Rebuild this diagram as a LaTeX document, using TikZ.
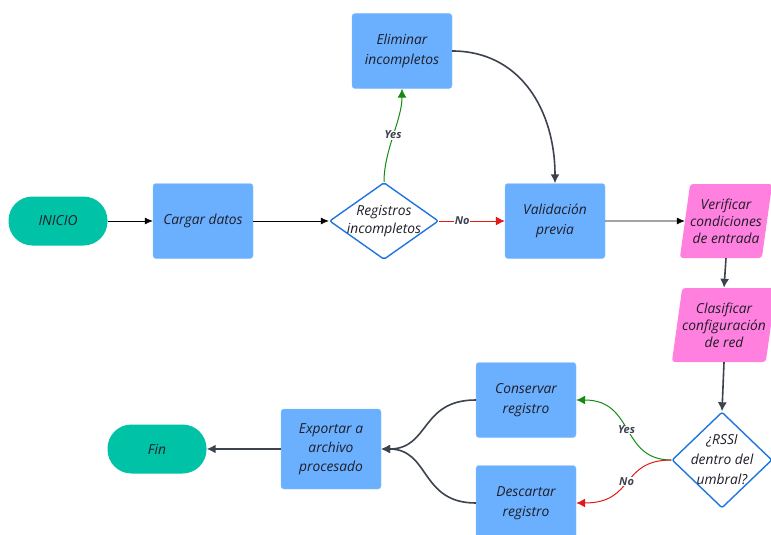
\documentclass[tikz,border=0pt]{standalone}
\usepackage{fontspec}
\setmainfont{Open Sans}
\usetikzlibrary{shapes.geometric,arrows.meta}
\definecolor{teal1}{RGB}{0,194,166}
\definecolor{blue1}{RGB}{106,176,255}
\definecolor{pink1}{RGB}{255,128,222}
\definecolor{dark1}{RGB}{60,66,78}
\definecolor{dblue}{RGB}{30,118,224}
\definecolor{grn}{RGB}{20,140,20}
\definecolor{rd}{RGB}{225,25,25}
\definecolor{txt}{RGB}{30,30,40}
\tikzset{
  base/.style={font=\fontsize{13.8}{20}\selectfont\itshape, text=txt, align=center, inner sep=0pt},
  term/.style={base, fill=teal1, rounded corners=24pt, minimum width=99pt, minimum height=49pt},
  proc/.style={base, fill=blue1, draw=blue1!80!white, rounded corners=3pt, minimum width=100pt, minimum height=75pt},
  dec/.style={shape=diamond, draw=dblue, line width=1.4pt, fill=white, inner sep=0pt, rounded corners=2pt},
  io/.style={base, font=\fontsize{13.8}{17}\selectfont\itshape, shape=trapezium, trapezium left angle=77, trapezium right angle=103, fill=pink1, rounded corners=3pt, minimum width=82pt, minimum height=74pt, trapezium stretches=true},
  thin/.style={draw=black, line width=0.6pt, -{Latex[length=8pt,width=7pt]}},
  thick/.style={draw=dark1, line width=1.6pt, -{Latex[length=9pt,width=9pt]}},
  yes/.style={draw=grn, line width=1pt, -{Latex[length=9pt,width=9pt]}},
  no/.style={draw=rd, line width=1pt, -{Latex[length=9pt,width=9pt]}},
  lab/.style={font=\fontsize{11}{13}\selectfont\bfseries\itshape, text=dark1, fill=white, inner sep=0.5pt}
}
\begin{document}
\begin{tikzpicture}[x=1pt,y=-1pt]
\useasboundingbox[fill=white] (0,0) rectangle (771,535);
\node[term] (inicio) at (58,221) {INICIO};
\node[proc] (cargar) at (203,221) {Cargar datos};
\node[dec, minimum width=109pt, minimum height=77pt] (reg) at (384,221) {};
\node[base, font=\fontsize{13.8}{18}\selectfont\itshape] (regt) at (reg.center) {Registros\\incompletos};
\node[proc] (elim) at (402,51) {Eliminar\\incompletos};
\node[proc] (valid) at (555,221) {Validación\\previa};
\node[io, minimum width=86pt] (verif) at (726,221) {Verificar\\condiciones\\de entrada};
\node[io, minimum width=86pt] (clas) at (724,325) {Clasificar\\configuración\\de red};
\node[dec, minimum width=100pt, minimum height=96pt] (rssi) at (722,460) {};
\node[base] (rssit) at (rssi.center) {¿RSSI\\dentro del\\umbral?};
\node[proc] (cons) at (526,400) {Conservar\\registro};
\node[proc] (desc) at (526,503) {Descartar\\registro};
\node[proc, minimum height=80pt, font=\fontsize{13.8}{19}\selectfont\itshape] (exp) at (331,449) {Exportar a\\archivo\\procesado};
\node[term] (fin) at (157,449) {Fin};

\draw[thin] (inicio) -- (cargar);
\draw[thin] (cargar) -- (reg);
\draw[yes] (reg.north) .. controls (384,150) and (402,120) .. (elim.south) node[lab, pos=0.5] {Yes};
\draw[no] (reg.east) -- (valid.west) node[lab, pos=0.35] {No};
\draw[thick] (elim.east) .. controls (520,51) and (555,110) .. (valid.north);
\draw[thin] (valid.east) -- (verif.west);
\draw[thick] (verif.south) -- (clas.north);
\draw[thick] (clas.south) -- (rssi.north);
\draw[yes] (rssi.west) .. controls (620,460) and (635,400) .. (cons.east) node[lab, pos=0.5] {Yes};
\draw[no] (rssi.west) .. controls (620,460) and (635,503) .. (desc.east) node[lab, pos=0.5] {No};
\draw[thick] (cons.west) .. controls (420,400) and (430,449) .. (exp.east);
\draw[thick] (desc.west) .. controls (420,503) and (430,449) .. (exp.east);
\draw[thick] (exp.west) -- (fin.east);
\end{tikzpicture}
\end{document}
